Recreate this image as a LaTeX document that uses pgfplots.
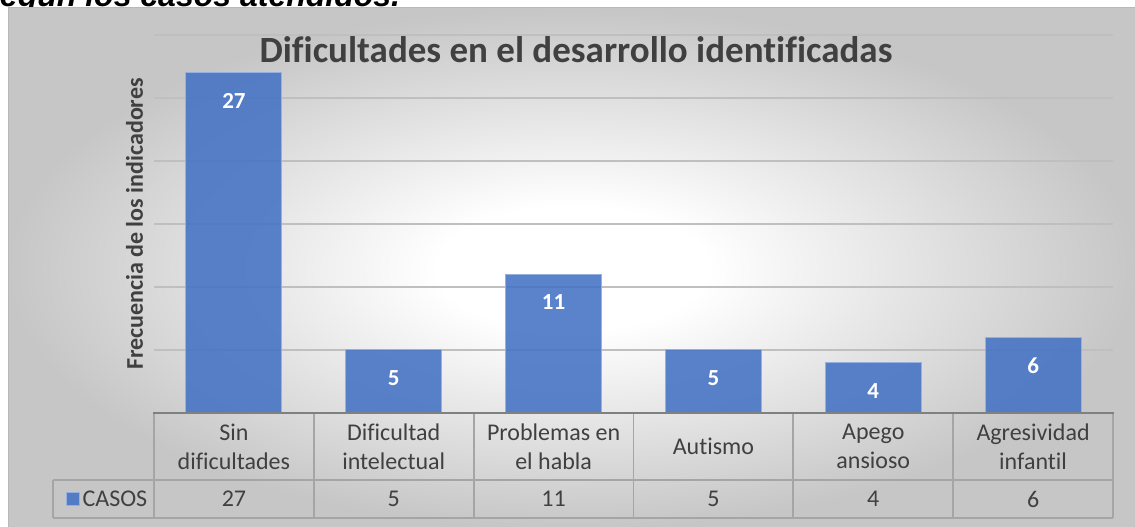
\documentclass[border=0pt]{standalone}
\usepackage{pgfplots}
\pgfplotsset{compat=1.18}
\usepackage{fontspec}
\setmainfont{Carlito}[Ligatures=NoCommon]
\newfontfamily\arialf{Liberation Sans}
\definecolor{barcol}{RGB}{68,114,196}
\definecolor{baredge}{RGB}{150,176,226}
\definecolor{txt}{RGB}{64,64,64}
\definecolor{bgedge}{RGB}{198,198,198}
\definecolor{tline}{RGB}{165,165,165}
\definecolor{axline}{RGB}{128,128,128}
\pgfdeclareradialshading{chartbg}{\pgfpoint{0bp}{0bp}}{color(0bp)=(white); color(6bp)=(white); color(25bp)=(bgedge); color(50bp)=(bgedge)}

\begin{document}
\begin{tikzpicture}[x=1pt,y=1pt]
\path[use as bounding box] (0,0) rectangle (1135,527);
\node[anchor=base west, inner sep=0pt, font=\arialf\bfseries\itshape\fontsize{32}{36}\selectfont] at (-18,520) {según los casos atendidos.};
\shade[shading=chartbg] (8,-2) rectangle (1137,519);
\draw[gray!55, line width=1pt] (8,-2) -- (8,519) -- (1137,519);
\begin{axis}[
  at={(154pt,114pt)}, anchor=south west,
  scale only axis, width=959pt, height=378pt,
  xmin=-0.5, xmax=5.5, ymin=0, ymax=30,
  ybar, bar width=96pt,
  clip=false,
  /pgf/number format/assume math mode=true,
  axis line style={draw=none},
  major tick length=0pt,
  ytick={0,5,...,30}, yticklabels={},
  ymajorgrids, grid style={black!25, line width=1.6pt},
  xtick={0,...,5},
  xticklabels={{Sin\\dificultades},{Dificultad\\intelectual},{Problemas en\\el habla},{Autismo},{Apego\\ansioso},{Agresividad\\infantil}},
  xticklabel style={anchor=center, yshift=-33.5pt, align=center, text=txt, font=\fontsize{24}{29.3}\selectfont},
  extra x ticks={0,...,5},
  extra x tick labels={27,5,11,5,4,6},
  extra x tick style={xticklabel style={yshift=-52.5pt}},
  title={Dificultades en el desarrollo identificadas},
  title style={at={(axis description cs:0.440,0.926)}, anchor=base, yshift=-6pt, text=txt, font=\fontsize{37}{41}\selectfont\bfseries},
  ylabel={Frecuencia de los indicadores},
  ylabel style={at={(axis description cs:-0.0115,0.5)}, anchor=base, text=txt, font=\fontsize{24}{28}\selectfont\bfseries},
  legend style={at={(axis description cs:-0.0042,-0.2275)}, anchor=east, draw=none, fill=none, text=txt, font=\fontsize{24}{28}\selectfont, inner sep=0pt, nodes={inner sep=2.5pt}},
]
\addplot[fill=barcol, fill opacity=0.88, draw=baredge, line width=1pt,
  nodes near coords,
  every node near coord/.append style={anchor=center, yshift=-28pt, text=white, text opacity=1, font=\fontsize{23}{26}\selectfont\bfseries},
  legend image code/.code={\draw[fill=barcol, draw=baredge, line width=1pt] (-2pt,-6.5pt) rectangle (11pt,6.5pt);}]
  coordinates {(0,27) (1,5) (2,11) (3,5) (4,4) (5,6)};
\addlegendentry{CASOS}
\end{axis}
\foreach \k in {0,...,6} \draw[tline, line width=1.8pt] ({154+159.833*\k},114) -- ({154+159.833*\k},9);
\draw[tline, line width=1.8pt] (53,47) -- (1113,47);
\draw[tline, line width=1.8pt] (53,9) -- (1113,9);
\draw[tline, line width=1.8pt] (53,47) -- (53,9);
\draw[axline, line width=2.6pt] (153,114) -- (1114,114);
\end{tikzpicture}
\end{document}
